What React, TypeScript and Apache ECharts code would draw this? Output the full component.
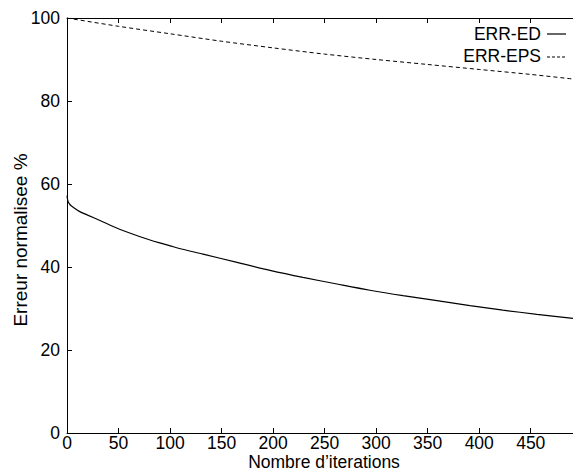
import React, { useEffect, useRef } from "react";
import * as echarts from "echarts";

const edIterations = [0, 1, 3, 6, 12, 20, 32, 51, 71, 90, 100, 110, 132, 165, 197, 229, 262, 294, 326, 359, 391, 423, 456, 491];
const edValues = [57.2, 55.8, 55.0, 54.4, 53.4, 52.5, 51.2, 49.1, 47.3, 45.8, 45.1, 44.4, 43.1, 41.1, 39.2, 37.5, 35.9, 34.4, 33.1, 31.9, 30.7, 29.6, 28.6, 27.6];

const epsIterations = [0, 50, 100, 150, 200, 250, 300, 350, 400, 450, 491];
const epsValues = [100, 98.0, 96.2, 94.4, 92.8, 91.3, 90.0, 88.8, 87.6, 86.4, 85.3];

const xTicks = { min: 0, max: 491, interval: 50 };
const yTicks = { min: 0, max: 100, interval: 20 };

const seriesNames = ["ERR-ED", "ERR-EPS"];
const xName = "Nombre d\u2019iterations";
const yName = "Erreur normalisee %";

const FONT = "'Liberation Sans', Arial, Helvetica, sans-serif";
const FS = 17.5;

export default function App() {
  const ref = useRef<HTMLDivElement>(null);
  useEffect(() => {
    if (!ref.current) return;
    const chart = echarts.init(ref.current, undefined, { renderer: "svg" });
    const axisCommon = {
      type: "value" as const,
      axisLine: { show: true, lineStyle: { color: "#000", width: 1 } },
      axisTick: { show: true, inside: true, length: 5, lineStyle: { color: "#000" } },
      splitLine: { show: false },
    };
    chart.setOption({
      animation: false,
      backgroundColor: "#fff",
      textStyle: { fontFamily: FONT },
      grid: { left: 67, right: 0, top: 18, bottom: 39, containLabel: false },
      xAxis: [
        {
          ...axisCommon,
          position: "bottom",
          min: xTicks.min,
          max: xTicks.max,
          interval: xTicks.interval,
          axisLabel: { color: "#000", fontSize: FS, fontFamily: FONT, margin: 1, lineHeight: 17, showMaxLabel: false },
        },
        {
          ...axisCommon,
          position: "top",
          min: xTicks.min,
          max: xTicks.max,
          interval: xTicks.interval,
          axisLabel: { show: false },
        },
      ],
      yAxis: {
        ...axisCommon,
        min: yTicks.min,
        max: yTicks.max,
        interval: yTicks.interval,
        axisLabel: { color: "#000", fontSize: FS, fontFamily: FONT, margin: 7 },
      },
      series: [
        {
          name: seriesNames[0],
          type: "line",
          xAxisIndex: 0,
          data: edIterations.map((x, i) => [x, edValues[i]]),
          showSymbol: false,
          smooth: 0.3,
          lineStyle: { color: "#000", width: 1.2 },
          clip: true,
        },
        {
          name: seriesNames[1],
          type: "line",
          xAxisIndex: 0,
          data: epsIterations.map((x, i) => [x, epsValues[i]]),
          showSymbol: false,
          smooth: 0.3,
          lineStyle: { color: "#000", width: 1, type: [4, 3] },
          clip: true,
        },
      ],
      graphic: [
        {
          type: "text",
          x: 324,
          y: 461.5,
          style: { text: xName, font: `${FS}px ${FONT}`, fill: "#000", textAlign: "center", textVerticalAlign: "middle", lineHeight: 17 },
        },
        {
          type: "text",
          x: 20.5,
          y: 240,
          rotation: Math.PI / 2,
          style: { text: yName, font: `19px ${FONT}`, fill: "#000", textAlign: "center", textVerticalAlign: "middle" },
        },
        {
          type: "text",
          x: 541,
          y: 33.5,
          style: { text: seriesNames[0], font: `${FS}px ${FONT}`, fill: "#000", textAlign: "right", textVerticalAlign: "middle" },
        },
        {
          type: "line",
          shape: { x1: 547, y1: 34, x2: 566, y2: 34 },
          style: { stroke: "#000", lineWidth: 1.2 },
        },
        {
          type: "text",
          x: 541,
          y: 56,
          style: { text: seriesNames[1], font: `${FS}px ${FONT}`, fill: "#000", textAlign: "right", textVerticalAlign: "middle" },
        },
        {
          type: "line",
          shape: { x1: 547, y1: 57, x2: 566, y2: 57 },
          style: { stroke: "#000", lineWidth: 1, lineDash: [3, 2] },
        },
      ],
    });
    return () => chart.dispose();
  }, []);
  return (
    <div
      ref={ref}
      style={{ position: "fixed", left: 0, top: 0, width: 573, height: 472, background: "#fff" }}
    />
  );
}
